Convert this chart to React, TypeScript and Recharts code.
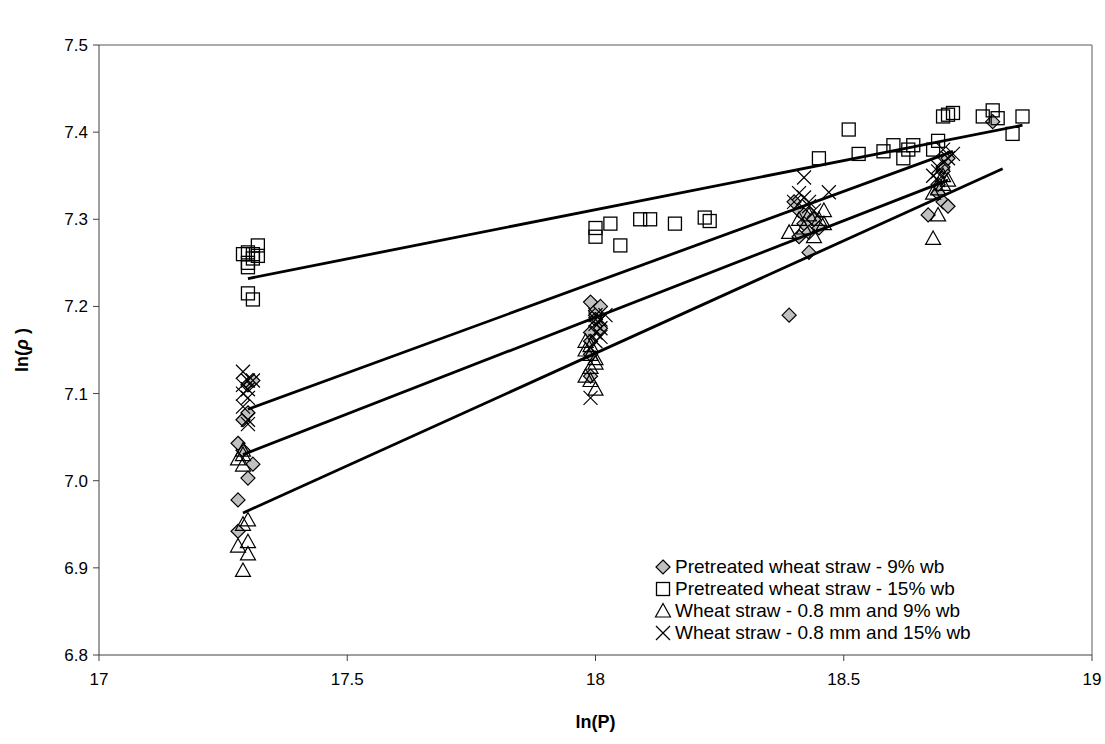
import React from 'react';
import {
  ScatterChart, Scatter, XAxis, YAxis, ReferenceLine,
} from 'recharts';

type Pt = { x: number; y: number };

// Pretreated wheat straw - 9% wb
const pre9: Pt[] = [
  { x: 17.28, y: 6.942 }, { x: 17.28, y: 6.978 }, { x: 17.3, y: 7.003 }, { x: 17.31, y: 7.019 },
  { x: 17.29, y: 7.035 }, { x: 17.28, y: 7.043 }, { x: 17.29, y: 7.07 }, { x: 17.3, y: 7.078 },
  { x: 17.3, y: 7.11 }, { x: 17.31, y: 7.115 },
  { x: 17.99, y: 7.205 }, { x: 18.0, y: 7.195 }, { x: 18.0, y: 7.19 }, { x: 18.01, y: 7.2 },
  { x: 18.0, y: 7.185 }, { x: 18.01, y: 7.175 }, { x: 17.99, y: 7.17 }, { x: 17.99, y: 7.16 },
  { x: 17.99, y: 7.145 }, { x: 17.99, y: 7.12 },
  { x: 18.39, y: 7.19 },
  { x: 18.4, y: 7.32 }, { x: 18.41, y: 7.31 }, { x: 18.42, y: 7.305 }, { x: 18.42, y: 7.295 },
  { x: 18.43, y: 7.285 }, { x: 18.41, y: 7.28 }, { x: 18.43, y: 7.262 }, { x: 18.45, y: 7.29 },
  { x: 18.44, y: 7.3 },
  { x: 18.67, y: 7.305 }, { x: 18.7, y: 7.32 }, { x: 18.71, y: 7.315 }, { x: 18.69, y: 7.33 },
  { x: 18.69, y: 7.34 }, { x: 18.7, y: 7.355 }, { x: 18.7, y: 7.36 }, { x: 18.71, y: 7.37 },
  { x: 18.8, y: 7.412 },
];

// Pretreated wheat straw - 15% wb
const pre15: Pt[] = [
  { x: 17.29, y: 7.26 }, { x: 17.3, y: 7.262 }, { x: 17.31, y: 7.255 }, { x: 17.3, y: 7.25 },
  { x: 17.3, y: 7.245 }, { x: 17.32, y: 7.27 }, { x: 17.32, y: 7.258 }, { x: 17.3, y: 7.215 },
  { x: 17.31, y: 7.208 }, { x: 17.31, y: 7.26 },
  { x: 18.0, y: 7.29 }, { x: 18.0, y: 7.28 }, { x: 18.03, y: 7.295 }, { x: 18.05, y: 7.27 },
  { x: 18.09, y: 7.3 }, { x: 18.11, y: 7.3 }, { x: 18.16, y: 7.295 }, { x: 18.22, y: 7.302 },
  { x: 18.23, y: 7.298 },
  { x: 18.45, y: 7.37 }, { x: 18.51, y: 7.403 }, { x: 18.53, y: 7.375 }, { x: 18.58, y: 7.378 },
  { x: 18.6, y: 7.385 }, { x: 18.62, y: 7.37 }, { x: 18.63, y: 7.38 }, { x: 18.64, y: 7.385 },
  { x: 18.68, y: 7.38 }, { x: 18.69, y: 7.39 }, { x: 18.7, y: 7.418 }, { x: 18.71, y: 7.42 },
  { x: 18.72, y: 7.422 }, { x: 18.78, y: 7.418 }, { x: 18.8, y: 7.425 }, { x: 18.81, y: 7.416 },
  { x: 18.84, y: 7.398 }, { x: 18.86, y: 7.418 },
];

// Wheat straw - 0.8 mm and 9% wb
const ws9: Pt[] = [
  { x: 17.29, y: 6.897 }, { x: 17.3, y: 6.916 }, { x: 17.3, y: 6.93 }, { x: 17.28, y: 6.925 },
  { x: 17.29, y: 6.95 }, { x: 17.3, y: 6.955 }, { x: 17.29, y: 7.018 }, { x: 17.28, y: 7.025 },
  { x: 17.29, y: 7.03 }, { x: 17.29, y: 7.035 },
  { x: 17.98, y: 7.16 }, { x: 17.98, y: 7.15 }, { x: 17.99, y: 7.145 }, { x: 18.0, y: 7.14 },
  { x: 17.99, y: 7.13 }, { x: 17.98, y: 7.12 }, { x: 17.99, y: 7.115 }, { x: 18.0, y: 7.105 },
  { x: 18.0, y: 7.135 }, { x: 17.99, y: 7.155 },
  { x: 18.39, y: 7.285 }, { x: 18.42, y: 7.29 }, { x: 18.41, y: 7.3 }, { x: 18.43, y: 7.305 },
  { x: 18.46, y: 7.295 }, { x: 18.46, y: 7.31 }, { x: 18.44, y: 7.28 }, { x: 18.45, y: 7.3 },
  { x: 18.68, y: 7.278 }, { x: 18.69, y: 7.305 }, { x: 18.68, y: 7.33 }, { x: 18.69, y: 7.335 },
  { x: 18.7, y: 7.34 }, { x: 18.71, y: 7.345 }, { x: 18.7, y: 7.35 },
];

// Wheat straw - 0.8 mm and 15% wb
const ws15: Pt[] = [
  { x: 17.29, y: 7.125 }, { x: 17.3, y: 7.115 }, { x: 17.29, y: 7.11 }, { x: 17.29, y: 7.1 },
  { x: 17.3, y: 7.095 }, { x: 17.29, y: 7.085 }, { x: 17.3, y: 7.065 }, { x: 17.3, y: 7.07 },
  { x: 17.3, y: 7.105 }, { x: 17.31, y: 7.115 },
  { x: 18.0, y: 7.19 }, { x: 18.0, y: 7.185 }, { x: 18.0, y: 7.18 }, { x: 18.01, y: 7.175 },
  { x: 18.0, y: 7.17 }, { x: 18.01, y: 7.165 }, { x: 18.0, y: 7.16 }, { x: 17.99, y: 7.095 },
  { x: 18.02, y: 7.19 }, { x: 18.01, y: 7.185 },
  { x: 18.42, y: 7.348 }, { x: 18.41, y: 7.33 }, { x: 18.42, y: 7.325 }, { x: 18.4, y: 7.32 },
  { x: 18.43, y: 7.315 }, { x: 18.44, y: 7.31 }, { x: 18.47, y: 7.331 }, { x: 18.43, y: 7.32 },
  { x: 18.69, y: 7.36 }, { x: 18.7, y: 7.365 }, { x: 18.71, y: 7.37 }, { x: 18.72, y: 7.375 },
  { x: 18.7, y: 7.38 }, { x: 18.69, y: 7.355 }, { x: 18.68, y: 7.35 }, { x: 18.69, y: 7.345 },
];

// fitted lines (end points)
const fitPre15: Pt[] = [{ x: 17.3, y: 7.232 }, { x: 18.86, y: 7.408 }];
const fitWs15: Pt[] = [{ x: 17.3, y: 7.082 }, { x: 18.72, y: 7.378 }];
const fitWs9: Pt[] = [{ x: 17.29, y: 7.03 }, { x: 18.71, y: 7.345 }];
const fitPre9: Pt[] = [{ x: 17.29, y: 6.963 }, { x: 18.82, y: 7.358 }];

const xTicks = [17, 17.5, 18, 18.5, 19];
const yTicks = [6.8, 6.9, 7.0, 7.1, 7.2, 7.3, 7.4, 7.5];

const legendItems = [
  { name: 'Pretreated wheat straw - 9% wb', kind: 'diamond' },
  { name: 'Pretreated wheat straw - 15% wb', kind: 'square' },
  { name: 'Wheat straw - 0.8 mm and 9% wb', kind: 'triangle' },
  { name: 'Wheat straw - 0.8 mm and 15% wb', kind: 'cross' },
];

const FONT = '"Liberation Sans", Arial, sans-serif';

function marker(kind: string, cx: number, cy: number) {
  if (kind === 'diamond') {
    return <path d={`M${cx},${cy - 7}L${cx + 7},${cy}L${cx},${cy + 7}L${cx - 7},${cy}Z`} fill="#c0c0c0" stroke="#000" strokeWidth={1.2} />;
  }
  if (kind === 'square') {
    return <rect x={cx - 6.5} y={cy - 6.5} width={13} height={13} fill="none" stroke="#000" strokeWidth={1.3} />;
  }
  if (kind === 'triangle') {
    return <path d={`M${cx},${cy - 7.5}L${cx + 7.5},${cy + 6}L${cx - 7.5},${cy + 6}Z`} fill="none" stroke="#000" strokeWidth={1.2} />;
  }
  return (
    <g stroke="#000" strokeWidth={1.2}>
      <line x1={cx - 7} y1={cy - 7} x2={cx + 7} y2={cy + 7} />
      <line x1={cx - 7} y1={cy + 7} x2={cx + 7} y2={cy - 7} />
    </g>
  );
}

const shapeOf = (kind: string) => (p: any) => marker(kind, p.cx, p.cy);
const noShape = () => <g />;

function LegendBox() {
  return (
    <div style={{ position: 'absolute', left: 654, top: 556, fontFamily: FONT, fontSize: 19, color: '#000' }}>
      {legendItems.map((it) => (
        <div key={it.name} style={{ display: 'flex', alignItems: 'center', height: 22, whiteSpace: 'nowrap' }}>
          <svg width={18} height={18} style={{ marginRight: 3 }}>
            {marker(it.kind, 9, 9)}
          </svg>
          <span>{it.name}</span>
        </div>
      ))}
    </div>
  );
}

function YLabel(props: any) {
  const vb = props.viewBox || {};
  const cx = 22;
  const cy = (vb.y || 45) + (vb.height || 610) / 2;
  return (
    <text x={cx} y={cy} transform={`rotate(-90 ${cx} ${cy})`} textAnchor="middle" dominantBaseline="central"
      fontFamily={FONT} fontSize={18} fontWeight="bold" fill="#000">
      ln(<tspan fontStyle="italic">ρ</tspan> )
    </text>
  );
}

export default function App() {
  return (
    <div style={{ position: 'absolute', left: 0, top: 0, width: 1105, height: 744, background: '#fff' }}>
      <ScatterChart width={1105} height={744} margin={{ top: 45, right: 13, bottom: 0, left: 0 }}>
        <XAxis
          type="number" dataKey="x" domain={[17, 19]} ticks={xTicks} allowDataOverflow
          tick={{ fontFamily: FONT, fontSize: 17, fill: '#000' }}
          tickFormatter={(v: number) => String(v)}
          stroke="#404040" tickSize={6} tickMargin={12} height={89}
          label={{ value: 'ln(P)', position: 'insideBottom', offset: 16, style: { fontFamily: FONT, fontSize: 18, fontWeight: 'bold', fill: '#000' } }}
        />
        <YAxis
          type="number" dataKey="y" domain={[6.8, 7.5]} ticks={yTicks} allowDataOverflow
          tick={{ fontFamily: FONT, fontSize: 17, fill: '#000' }}
          tickFormatter={(v: number) => v.toFixed(1)}
          stroke="#404040" tickSize={6} tickMargin={5} width={99}
          label={<YLabel />}
        />
        <ReferenceLine y={7.5} stroke="#909090" strokeWidth={1.5} />
        <ReferenceLine x={19} stroke="#909090" strokeWidth={1.5} />
        <Scatter name="Pretreated wheat straw - 9% wb" data={pre9} shape={shapeOf('diamond')} isAnimationActive={false} />
        <Scatter name="Pretreated wheat straw - 15% wb" data={pre15} shape={shapeOf('square')} isAnimationActive={false} />
        <Scatter name="Wheat straw - 0.8 mm and 9% wb" data={ws9} shape={shapeOf('triangle')} isAnimationActive={false} />
        <Scatter name="Wheat straw - 0.8 mm and 15% wb" data={ws15} shape={shapeOf('cross')} isAnimationActive={false} />
        <Scatter data={fitPre15} line={{ stroke: '#000', strokeWidth: 2.8 }} shape={noShape} legendType="none" isAnimationActive={false} />
        <Scatter data={fitWs15} line={{ stroke: '#000', strokeWidth: 2.8 }} shape={noShape} legendType="none" isAnimationActive={false} />
        <Scatter data={fitWs9} line={{ stroke: '#000', strokeWidth: 2.8 }} shape={noShape} legendType="none" isAnimationActive={false} />
        <Scatter data={fitPre9} line={{ stroke: '#000', strokeWidth: 2.8 }} shape={noShape} legendType="none" isAnimationActive={false} />
      </ScatterChart>
      <LegendBox />
    </div>
  );
}
